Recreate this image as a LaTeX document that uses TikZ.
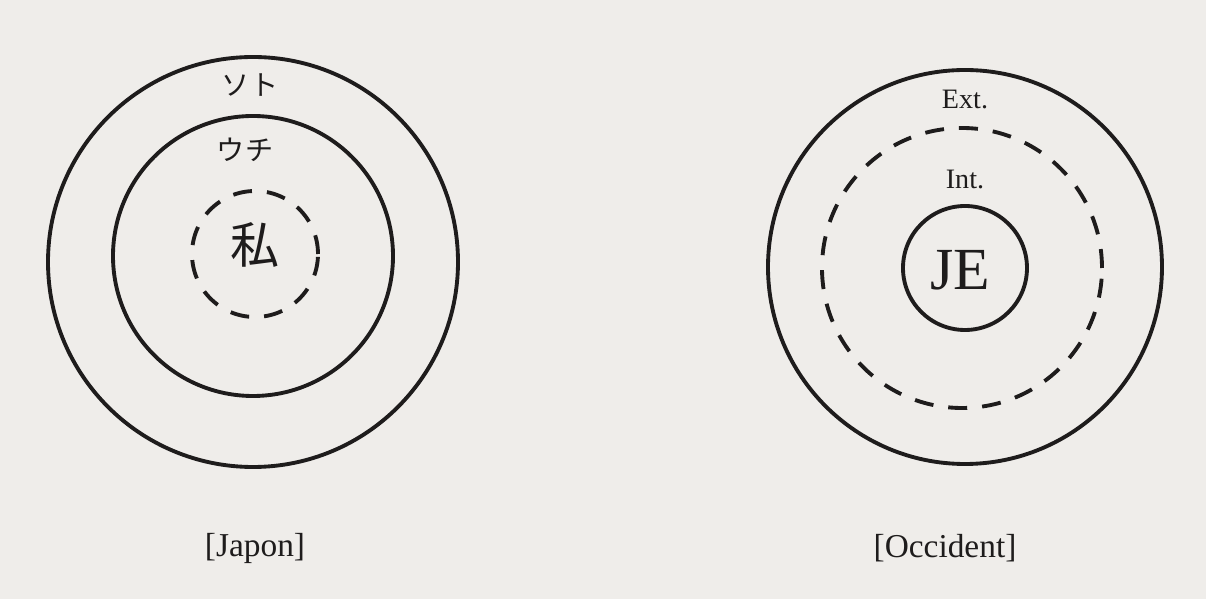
\documentclass[tikz,border=0pt]{standalone}
\usepackage{fontspec}
\setmainfont{Liberation Serif}
\newfontfamily\jpfont{Noto Sans CJK JP}
\usepackage{xcolor}
\usepackage{tikz}
\definecolor{papier}{RGB}{239,237,234}
\definecolor{encre}{RGB}{30,28,28}
\tikzset{
  cercle/.style={draw=encre, line width=2.2pt},
  pointille/.style={cercle, dash pattern=on 0.38cm off 0.3cm},
  etiquette/.style={text=encre, inner sep=1pt, font=\fontsize{#1}{#1}\selectfont},
  etiquette/.default=16pt,
}

\begin{document}
\begin{tikzpicture}
  \fill[papier] (0,0) rectangle (24.12,11.98);
  \useasboundingbox (0,0) rectangle (24.12,11.98);
  % Japon
  \draw[cercle] (5.06,6.74) circle (4.1);
  \draw[cercle] (5.06,6.86) circle (2.8);
  \draw[pointille] (5.10,6.90) circle (1.26);
  \node[etiquette=16pt] (soto) at (5.0,10.28) {\jpfont ソト};
  \node[etiquette=16pt] (uchi) at (4.9,8.98) {\jpfont ウチ};
  \node[etiquette=28pt] (watashi) at (5.1,7.08) {\jpfont 私};
  \node[etiquette=19pt] (japon) at (5.1,1.02) {[Japon]};
  % Occident
  \draw[cercle] (19.3,6.64) circle (3.94);
  \draw[pointille] (19.24,6.62) circle (2.8);
  \draw[cercle] (19.3,6.62) circle (1.24);
  \node[etiquette=16pt] (ext) at (19.3,9.98) {Ext.};
  \node[etiquette=16pt] (int) at (19.3,8.38) {Int.};
  \node[etiquette=34pt] (je) at (19.2,6.58) {JE};
  \node[etiquette=19pt] (occident) at (18.9,1.02) {[Occident]};
\end{tikzpicture}
\end{document}
